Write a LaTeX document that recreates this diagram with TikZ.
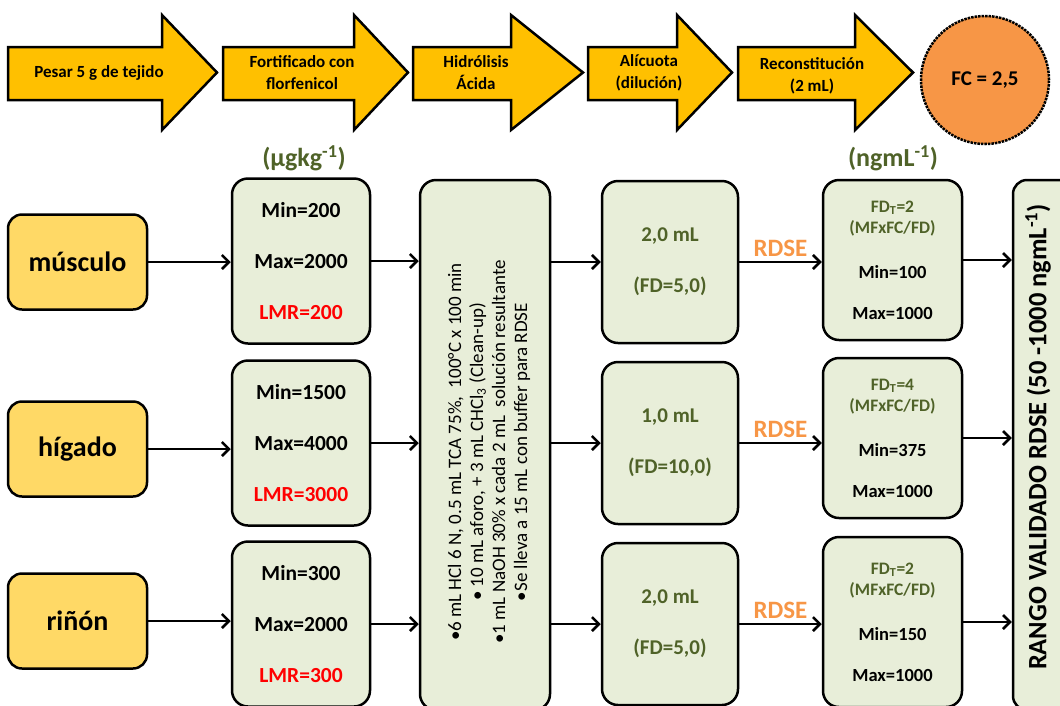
\documentclass[tikz,border=0pt]{standalone}
\usepackage{fontspec}
\setmainfont{Carlito}
\usepackage{xcolor}
\usepackage{tikz}
\usetikzlibrary{arrows.meta,positioning,shapes}
\definecolor{pasoY}{HTML}{FFC000}
\definecolor{tejidoY}{HTML}{FFD966}
\definecolor{cajaV}{HTML}{E8EED9}
\definecolor{oliva}{HTML}{4F6228}
\definecolor{naranja}{HTML}{F79646}
\newcommand{\flecha}[3]{%
  \draw[pasoarrow] (#1,47) -- (#2,47) -- (#2,15) -- (#3,72.5) -- (#2,130) -- (#2,100) -- (#1,100) -- cycle;}

\tikzset{
  pasoarrow/.style={fill=pasoY, draw=black, line width=2.5pt, line join=miter},
  pasotext/.style={font=\fontsize{17}{22}\selectfont\bfseries, align=center},
  tejido/.style={draw, line width=2.5pt, rounded corners=14pt, fill=tejidoY,
    minimum width=139pt, minimum height=95pt, font=\fontsize{28}{30}\selectfont\bfseries},
  concbox/.style={draw, line width=2.5pt, rounded corners=16pt, fill=cajaV,
    minimum width=138pt, minimum height=165pt, align=center,
    font=\fontsize{21.5}{51}\selectfont\bfseries},
  aliqbox/.style={concbox, minimum width=136pt, minimum height=162pt,
    text=oliva, font=\fontsize{21}{51}\selectfont\bfseries},
  fdbox/.style={concbox, minimum width=139pt, minimum height=160pt,
    font=\fontsize{17.5}{21}\selectfont\bfseries},
  flujo/.style={line width=2.5pt, -{Straight Barb[length=7pt,width=14pt]}},
  unidad/.style={text=oliva, font=\fontsize{26}{30}\selectfont\bfseries},
  rdse/.style={text=naranja, font=\fontsize{25}{28}\selectfont\bfseries},
}

\begin{document}
\begin{tikzpicture}[x=1pt, y=-1pt]
  \useasboundingbox (0,0) rectangle (1060,705);

  % --- pasos (flechas superiores) ---
  \flecha{8}{162}{217}
  \flecha{223}{354}{408}
  \flecha{413}{511}{583}
  \flecha{588}{677}{732}
  \flecha{738}{855}{913}
  \node[pasotext] (paso1) at (99,73) {Pesar 5 g de tejido};
  \node[pasotext] (paso2) at (302,73) {Fortificado con\\florfenicol};
  \node[pasotext] (paso3) at (476,73) {Hidrólisis\\Ácida};
  \node[pasotext] (paso4) at (649,73) {Alícuota\\(dilución)};
  \node[pasotext] (paso5) at (812,76) {Reconstitución\\(2 mL)};
  \node[circle, draw=black, line width=2.5pt, densely dotted, fill=naranja,
    minimum size=128pt, font=\fontsize{21}{24}\selectfont\bfseries] (fc) at (985,80) {FC = 2,5};

  % --- unidades ---
  \node[unidad] (ug) at (304,158) {(µgkg\textsuperscript{-1})};
  \node[unidad] (ng) at (893,158) {(ngmL\textsuperscript{-1})};

  % --- tejidos ---
  \node[tejido] (musculo) at (77.5,262) {músculo};
  \node[tejido] (higado) at (77.5,449) {hígado};
  \node[tejido] (rinon) at (77.5,621) {riñón};

  % --- fortificado ---
  \node[concbox] (conc1) at (301,261) {Min=200\\Max=2000\\\textcolor{red}{LMR=200}};
  \node[concbox] (conc2) at (301,443) {Min=1500\\Max=4000\\\textcolor{red}{LMR=3000}};
  \node[concbox] (conc3) at (301,624) {Min=300\\Max=2000\\\textcolor{red}{LMR=300}};

  % --- hidrolisis ---
  \node[draw, line width=2.5pt, rounded corners=16pt, fill=cajaV,
    minimum width=130pt, minimum height=530pt] (hidro) at (485,445) {};
  \node[rotate=90, align=center, font=\fontsize{19}{22}\selectfont] (hidrotxt) at (489,452)
    {•6 mL HCl 6 N, 0.5 mL TCA 75\%,~~100°C x 100 min\\
     • 10 mL aforo, + 3 mL CHCl\textsubscript{3} (Clean-up)\\
     •1 mL NaOH 30\% x cada 2 mL~~solución resultante\\
     •Se lleva a 15 mL con buffer para RDSE};

  % --- alicuotas ---
  \node[aliqbox] (alic1) at (670,262) {2,0 mL\\(FD=5,0)};
  \node[aliqbox] (alic2) at (670,443) {1,0 mL\\(FD=10,0)};
  \node[aliqbox] (alic3) at (670,624) {2,0 mL\\(FD=5,0)};

  % --- reconstitucion ---
  \node[fdbox] (fd1) at (892.5,260)
    {\textcolor{oliva}{FD\textsubscript{T}=2}\\\textcolor{oliva}{(MFxFC/FD)}\\[24pt]
     {\fontsize{18.5}{21}\selectfont Min=100}\\[20pt]{\fontsize{18.5}{21}\selectfont Max=1000}};
  \node[fdbox] (fd2) at (892.5,438)
    {\textcolor{oliva}{FD\textsubscript{T}=4}\\\textcolor{oliva}{(MFxFC/FD)}\\[24pt]
     {\fontsize{18.5}{21}\selectfont Min=375}\\[20pt]{\fontsize{18.5}{21}\selectfont Max=1000}};
  \node[fdbox, minimum height=170pt] (fd3) at (892.5,622)
    {\textcolor{oliva}{FD\textsubscript{T}=2}\\\textcolor{oliva}{(MFxFC/FD)}\\[24pt]
     {\fontsize{18.5}{21}\selectfont Min=150}\\[20pt]{\fontsize{18.5}{21}\selectfont Max=1000}};

  % --- rango validado ---
  \node[draw, line width=2.5pt, rounded corners=14pt, fill=cajaV,
    minimum width=62pt, minimum height=530pt] (rango) at (1044,445) {};
  \node[rotate=90, font=\fontsize{26.5}{30}\selectfont\bfseries] (rangotxt) at (1038,437)
    {RANGO VALIDADO RDSE (50 -1000 ngmL\textsuperscript{-1})};

  % --- conectores ---
  \foreach \a/\b in {musculo/conc1, higado/conc2, rinon/conc3}
    \draw[flujo] (\a) -- (\a -| \b.west);
  \foreach \a in {conc1, conc2, conc3}
    \draw[flujo] (\a) -- (\a -| hidro.west);
  \foreach \b in {alic1, alic2, alic3}
    \draw[flujo] (\b -| hidro.east) -- (\b);
  \foreach \a/\b in {alic1/fd1, alic2/fd2, alic3/fd3}
    \draw[flujo] (\a) -- (\a -| \b.west) node[rdse, midway, above=1pt] {RDSE};
  \foreach \a in {fd1, fd2, fd3}
    \draw[flujo] (\a) -- (\a -| rango.west);
\end{tikzpicture}
\end{document}
